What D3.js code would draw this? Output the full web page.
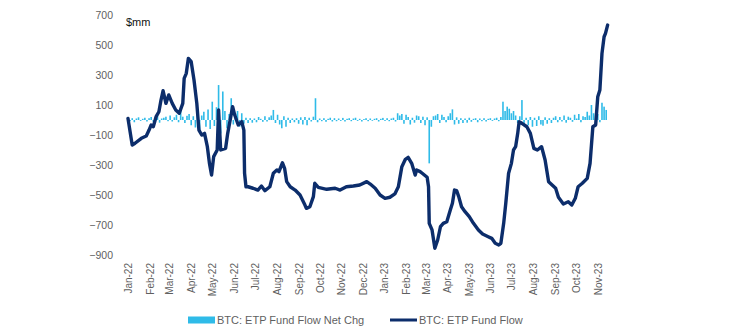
<!DOCTYPE html>
<html>
<head>
<meta charset="utf-8">
<script src="https://cdn.jsdelivr.net/npm/d3@7/dist/d3.min.js"></script>
<style>
  html, body { margin: 0; padding: 0; background: #fff; }
  svg { display: block; font-family: "Liberation Sans", Arial, sans-serif; }
</style>
</head>
<body>
<svg id="chart" width="747" height="335"></svg>
<script>
// ---- data ----
const seriesNames = ["BTC: ETP Fund Flow Net Chg", "BTC: ETP Fund Flow"];
const unitLabel = "$mm";
const yTicks = [700, 500, 300, 100, -100, -300, -500, -700, -900];
const monthTicks = ["2022-01-01","2022-02-01","2022-03-01","2022-04-01","2022-05-01","2022-06-01",
  "2022-07-01","2022-08-01","2022-09-01","2022-10-01","2022-11-01","2022-12-01",
  "2023-01-01","2023-02-01","2023-03-01","2023-04-01","2023-05-01","2023-06-01",
  "2023-07-01","2023-08-01","2023-09-01","2023-10-01","2023-11-01"];

// cumulative fund flow (line)
const flowDates = ["2022-01-01","2022-01-07","2022-01-11","2022-01-20","2022-01-27","2022-01-31","2022-02-03","2022-02-06","2022-02-10","2022-02-14",
  "2022-02-17","2022-02-20","2022-02-24","2022-02-28","2022-03-05","2022-03-10","2022-03-15","2022-03-20","2022-03-22","2022-03-25",
  "2022-03-28","2022-04-01","2022-04-05","2022-04-09","2022-04-12","2022-04-16","2022-04-20","2022-04-24","2022-04-27","2022-04-30",
  "2022-05-03","2022-05-08","2022-05-10","2022-05-13","2022-05-20","2022-05-23","2022-05-30","2022-06-02","2022-06-07","2022-06-12",
  "2022-06-15","2022-06-16","2022-06-18","2022-06-21","2022-06-28","2022-07-05","2022-07-10","2022-07-15","2022-07-22","2022-07-27",
  "2022-08-01","2022-08-04","2022-08-09","2022-08-12","2022-08-15","2022-08-20","2022-08-27","2022-09-03","2022-09-10","2022-09-12",
  "2022-09-17","2022-09-22","2022-09-24","2022-09-29","2022-10-11","2022-10-23","2022-10-30","2022-11-08","2022-11-18","2022-11-27",
  "2022-12-07","2022-12-12","2022-12-19","2022-12-26","2023-01-02","2023-01-09","2023-01-16","2023-01-21","2023-01-26","2023-01-31",
  "2023-02-04","2023-02-09","2023-02-14","2023-02-16","2023-02-21","2023-02-24","2023-03-03","2023-03-05","2023-03-06","2023-03-10",
  "2023-03-14","2023-03-18","2023-03-22","2023-03-26","2023-03-31","2023-04-05","2023-04-08","2023-04-11","2023-04-14","2023-04-17",
  "2023-04-21","2023-04-26","2023-05-02","2023-05-08","2023-05-15","2023-05-21","2023-05-29","2023-06-03","2023-06-08","2023-06-13",
  "2023-06-16","2023-06-20","2023-06-23","2023-06-27","2023-07-01","2023-07-04","2023-07-07","2023-07-10","2023-07-12","2023-07-16",
  "2023-07-23","2023-07-28","2023-08-02","2023-08-07","2023-08-13","2023-08-18","2023-08-23","2023-08-28","2023-09-02","2023-09-06",
  "2023-09-13","2023-09-20","2023-09-25","2023-09-30","2023-10-04","2023-10-10","2023-10-17","2023-10-21","2023-10-25","2023-10-29",
  "2023-11-01","2023-11-04","2023-11-07","2023-11-10","2023-11-12","2023-11-15"];
const flowValues = [10,-167,-155,-122,-107,-67,-33,-45,22,55,
  133,195,111,167,111,67,45,111,278,311,
  411,389,267,111,-67,-100,-89,-178,-289,-367,
  -244,-200,67,-200,-189,-89,89,33,-33,-11,
  -67,-355,-445,-445,-455,-467,-440,-471,-445,-355,
  -333,-344,-285,-322,-411,-445,-467,-500,-567,-589,
  -578,-511,-422,-449,-462,-455,-467,-445,-440,-433,
  -411,-427,-455,-500,-522,-515,-493,-445,-311,-262,
  -249,-289,-367,-333,-344,-355,-382,-445,-689,-733,
  -855,-800,-711,-689,-678,-600,-555,-467,-471,-511,
  -578,-611,-644,-689,-733,-760,-778,-789,-822,-833,
  -822,-689,-555,-355,-289,-200,-178,-89,-11,-22,
  -45,-89,-189,-200,-178,-267,-411,-433,-455,-515,
  -560,-545,-567,-522,-445,-422,-389,-289,-45,-33,
  155,200,444,555,578,633];

// net change (bars), one value every third day from 2022-01-01 to 2023-11-15
const barStart = "2022-01-01", barEnd = "2023-11-16", barStepDays = 3;
const netChgValues = [
  5,-8,12,-15,10,18,-6,8,15,-10,
  12,20,-12,8,25,-18,10,15,22,-8,
  30,-10,18,35,-15,67,22,-20,28,40,
  -35,25,-50,40,-67,30,55,-45,70,-60,
  122,-40,85,233,-90,190,60,-55,40,145,
  -30,45,60,-45,45,-25,15,-20,12,-18,
  10,-15,20,8,-12,25,-10,18,30,67,
  -20,35,-30,-55,25,-45,15,-20,10,-15,
  12,-25,18,-30,20,-35,15,-10,22,145,
  -15,10,-8,12,-12,8,15,-10,12,-8,
  10,-6,14,-10,8,12,-8,10,15,-6,
  8,-10,6,12,-8,10,-5,8,12,-10,
  8,14,-6,12,-8,10,15,-10,45,30,
  40,-25,35,20,-30,15,-18,30,25,-20,
  22,-35,18,-289,-45,25,30,40,-20,35,
  20,-15,25,45,71,-30,18,-25,12,-20,
  10,-18,15,-12,8,12,-15,10,-8,12,
  -10,8,12,-6,10,15,-8,20,122,60,
  89,75,45,60,30,-20,25,133,-25,15,
  -35,20,-45,15,-40,25,-30,-38,18,-25,
  12,-20,15,25,-15,20,-10,30,-18,22,
  15,-12,35,10,40,-15,25,20,55,30,
  100,45,30,40,-15,115,89,67,40];

// ---- chart ----
const parse = d3.utcParse("%Y-%m-%d");
const svg = d3.select("#chart");
const textColor = "#5f5f5f";
const barColor = "#2fbbe8";
const lineColor = "#0c2d6b";

const x = d3.scaleUtc()
  .domain([parse("2022-01-01"), parse("2023-11-15")])
  .range([128, 607.6]);
const y = d3.scaleLinear().domain([-900, 700]).range([255, 15]);

const barDates = d3.utcDay.range(parse(barStart), parse(barEnd), barStepDays);
const bars = barDates.map((d, i) => ({ date: d, value: netChgValues[i] }))
  .filter(d => d.value !== undefined);

svg.append("g").selectAll("rect").data(bars).join("rect")
  .attr("x", d => x(d.date) - 0.8)
  .attr("width", 1.6)
  .attr("y", d => Math.min(y(d.value), y(0)))
  .attr("height", d => Math.max(0.8, Math.abs(y(d.value) - y(0))))
  .attr("fill", barColor);

const flow = flowDates.map((d, i) => ({ date: parse(d), value: flowValues[i] }));
svg.append("path").datum(flow)
  .attr("fill", "none")
  .attr("stroke", lineColor)
  .attr("stroke-width", 3.4)
  .attr("stroke-linejoin", "round")
  .attr("stroke-linecap", "round")
  .attr("d", d3.line().x(d => x(d.date)).y(d => y(d.value)));

// y axis
const yAxis = svg.append("g").attr("transform", "translate(116,0)")
  .call(d3.axisLeft(y).tickValues(yTicks).tickSize(0).tickPadding(3).tickFormat(d3.format("d")));
yAxis.select(".domain").remove();
yAxis.selectAll("text").attr("fill", textColor).style("font-size", "10.5px")
  .style("font-family", "'Liberation Sans', Arial, sans-serif");

// x axis
const fmt = d3.utcFormat("%b-%y");
const xAxis = svg.append("g").attr("transform", "translate(0,263)")
  .call(d3.axisBottom(x).tickValues(monthTicks.map(parse)).tickSize(0).tickPadding(0).tickFormat(fmt));
xAxis.select(".domain").remove();
xAxis.selectAll("text")
  .attr("transform", "rotate(-90)")
  .attr("text-anchor", "end")
  .attr("x", 0).attr("y", 0).attr("dy", "0.35em")
  .attr("fill", textColor).style("font-size", "10px")
  .style("font-family", "'Liberation Sans', Arial, sans-serif");

// unit label
svg.append("text").attr("x", 126).attr("y", 25.5)
  .attr("fill", "#111").style("font-size", "11px").text(unitLabel);

// legend
const leg = svg.append("g").style("font-size", "11px").attr("fill", textColor);
leg.append("rect").attr("x", 188).attr("y", 316.5).attr("width", 27).attr("height", 7).attr("fill", barColor);
leg.append("text").attr("x", 217).attr("y", 324).text(seriesNames[0]);
leg.append("line").attr("x1", 390).attr("x2", 417).attr("y1", 320).attr("y2", 320)
  .attr("stroke", lineColor).attr("stroke-width", 3);
leg.append("text").attr("x", 419).attr("y", 324).text(seriesNames[1]);
</script>
</body>
</html>
